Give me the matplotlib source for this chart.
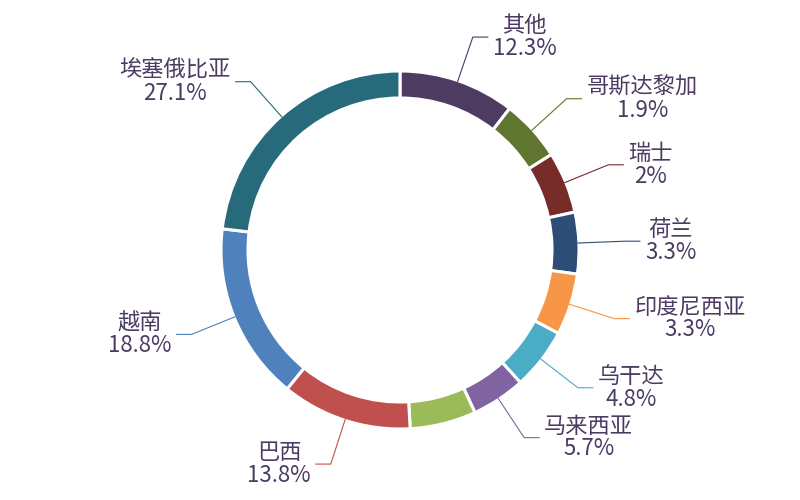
import numpy as np
import matplotlib
matplotlib.use("Agg")
import matplotlib.pyplot as plt

plt.rcParams['font.family'] = ['Noto Sans CJK SC', 'DejaVu Sans']

# data, clockwise from 12 o'clock
names = ["其他", "哥斯达黎加", "瑞士", "荷兰", "印度尼西亚", "乌干达",
         "马来西亚", "哥伦比亚", "巴西", "越南", "埃塞俄比亚"]
values = [12.3, 1.9, 2.0, 3.3, 3.3, 4.8, 5.7, 7.0, 13.8, 18.8, 27.1]
show_label = [True, True, True, True, True, True, True, False, True, True, True]
colors = ["#4D3B62", "#5F7530", "#772C2A", "#2C4D75", "#F79646", "#4BACC6",
          "#8064A2", "#9BBB59", "#C0504D", "#4F81BD", "#276A7C"]

text_color = "#4B3B62"
min_angle = 20.0

# echarts-like minAngle: small slices get min_angle, the rest share what's left
total = sum(values)
raw = [v / total * 360 for v in values]
small = [a < min_angle for a in raw]
rest = 360 - min_angle * sum(small)
big_sum = sum(v for v, s in zip(values, small) if not s)
angles = [min_angle if s else v * rest / big_sum for v, s in zip(values, small)]

fig = plt.figure(figsize=(8, 5), dpi=100)
ax = fig.add_axes([0, 0, 1, 1])

cx, cy = 400, 250
r_out, ring = 179, 27

ax.pie(angles, colors=colors, startangle=90, counterclock=False,
       radius=r_out, center=(cx, cy),
       wedgeprops=dict(width=ring, edgecolor="white", linewidth=2.2))

# labels with two-segment leader lines
len1, len2, gap = 47, 15, 5
start = 0.0
for name, v, a, col, show in zip(names, values, angles, colors, show_label):
    mid = np.radians(start + a / 2)
    start += a
    if not show:
        continue
    sx, sy = np.sin(mid), np.cos(mid)
    p0 = (cx + (r_out - 1) * sx, cy + (r_out - 1) * sy)
    p1 = (cx + (r_out + len1 - 1) * sx, cy + (r_out + len1 - 1) * sy)
    side = 1 if sx >= 0 else -1
    p2 = (p1[0] + side * len2, p1[1])
    ax.plot([p0[0], p1[0], p2[0]], [p0[1], p1[1], p2[1]],
            color=col, lw=0.8, solid_joinstyle="miter")
    ax.text(p2[0] + side * gap, p2[1], f"{name}\n{v:g}%",
            ha="left" if side > 0 else "right", va="center",
            multialignment="center", fontsize=16, color=text_color,
            linespacing=0.98)

ax.set_xlim(0, 800)
ax.set_ylim(0, 500)
ax.set_aspect("equal")
ax.axis("off")

fig.savefig("out.png", dpi=100, facecolor="white")
